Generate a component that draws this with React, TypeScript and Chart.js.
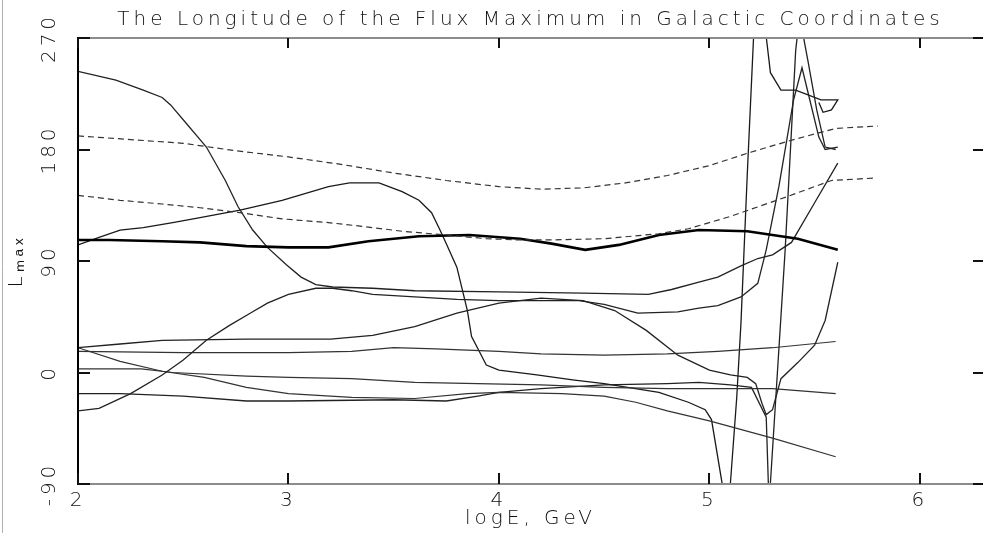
import React, { useEffect, useRef } from 'react';
import { Chart, registerables } from 'chart.js';

Chart.register(...registerables);

// ---- text ----
const TITLE = 'The Longitude of the Flux Maximum in Galactic Coordinates';
const X_LABEL = 'logE, GeV';
const Y_LABEL = 'Lₘₐₓ';

// ---- axes ----
const X_MIN = 2;
const X_MAX = 6.3;
const Y_MIN = -90;
const Y_MAX = 270;
const xTickValues = [2, 3, 4, 5, 6];
const yTickValues = [-90, 0, 90, 180, 270];

// ---- curves: [logE, Lmax] ----
const dashUpper: [number, number][] = [
  [2, 191], [2.25, 188], [2.5, 185], [2.75, 179], [3, 174], [3.25, 168], [3.5, 161], [3.75, 155],
  [4, 150], [4.2, 148], [4.4, 149], [4.6, 153], [4.8, 159], [5, 167], [5.2, 178], [5.4, 188],
  [5.6, 197], [5.8, 199],
];
const dashLower: [number, number][] = [
  [2, 143], [2.2, 139], [2.4, 136], [2.58, 133], [2.77, 129], [2.97, 124], [3.19, 121], [3.35, 118],
  [3.54, 114], [3.75, 111], [3.94, 108], [4.1, 107], [4.25, 107], [4.5, 108], [4.76, 112], [4.9, 116],
  [5.1, 126], [5.37, 142], [5.58, 155], [5.79, 157],
];
const thickMid: [number, number][] = [
  [2, 107], [2.15, 107], [2.4, 106], [2.58, 105], [2.8, 102], [3.0, 101], [3.19, 101], [3.38, 106],
  [3.62, 110], [3.86, 111], [4.1, 108], [4.25, 104], [4.41, 99], [4.57, 103], [4.76, 111], [4.95, 115],
  [5.18, 114], [5.42, 108], [5.61, 99],
];
const fallFromTop: [number, number][] = [
  [2, 243], [2.18, 236], [2.31, 228], [2.4, 222], [2.44, 216], [2.52, 200], [2.58, 188], [2.61, 182],
  [2.7, 155], [2.76, 134], [2.83, 115], [2.9, 101], [2.99, 87], [3.06, 77], [3.13, 71], [3.21, 69],
  [3.4, 68], [3.6, 66], [4.0, 65], [4.4, 64], [4.71, 63], [4.82, 67], [4.95, 73], [5.04, 77],
  [5.15, 86], [5.23, 92], [5.3, 95], [5.39, 105], [5.5, 137], [5.61, 169],
];
const riseFromBottom: [number, number][] = [
  [2, -31], [2.1, -29], [2.25, -17], [2.4, -2], [2.5, 10], [2.61, 26], [2.72, 38], [2.82, 48],
  [2.9, 56], [3.0, 63], [3.13, 68], [3.21, 68], [3.3, 66], [3.4, 63], [3.6, 61], [3.8, 59],
  [4.0, 58], [4.2, 58], [4.38, 58], [4.5, 55], [4.66, 48], [4.85, 49], [4.95, 52], [5.04, 54],
  [5.15, 61], [5.23, 72], [5.27, 99], [5.33, 150], [5.4, 220], [5.44, 246], [5.47, 225],
  [5.52, 190], [5.55, 180], [5.61, 182],
];
const humpDip: [number, number][] = [
  [2, 20], [2.2, 23], [2.4, 26], [2.8, 27], [3.2, 27], [3.4, 30], [3.6, 37], [3.8, 48], [4.0, 56],
  [4.2, 60], [4.4, 58], [4.55, 50], [4.7, 34], [4.85, 14], [5.0, 2], [5.1, -2], [5.18, -4],
  [5.22, -9], [5.25, -25], [5.27, -34], [5.3, -30], [5.34, -5], [5.42, 8], [5.5, 22], [5.55, 42],
  [5.61, 89],
];
const flatUpper: [number, number][] = [
  [2, 17], [2.5, 16], [3.0, 16], [3.3, 17], [3.5, 20], [3.7, 19], [4.0, 17], [4.2, 15], [4.5, 14],
  [4.8, 15], [5.04, 17], [5.3, 20], [5.6, 25],
];
const slideDown: [number, number][] = [
  [2, 20], [2.2, 9], [2.4, 1], [2.6, -4], [2.8, -12], [3.0, -17], [3.3, -20], [3.6, -21],
  [3.85, -17], [4.0, -16], [4.3, -17], [4.5, -19], [4.65, -24], [4.8, -31], [5.0, -39], [5.3, -53],
  [5.6, -68],
];
const nearZero: [number, number][] = [
  [2, 3], [2.3, 3], [2.45, 0], [2.8, -3], [3.0, -4], [3.3, -5], [3.6, -8], [3.9, -9], [4.2, -10],
  [4.5, -12], [4.8, -13], [5.0, -13], [5.3, -13], [5.45, -15], [5.6, -17],
];
const swingLate: [number, number][] = [
  [2, -17], [2.2, -17], [2.5, -19], [2.8, -23], [3.0, -23], [3.5, -22], [3.75, -23], [3.9, -19],
  [4.0, -16], [4.2, -13], [4.5, -10], [4.8, -9], [4.95, -8], [5.1, -10], [5.2, -12], [5.27, -36],
  [5.28, -89], [5.285, -105], [5.29, -89], [5.36, 99], [5.41, 260], [5.43, 290], [5.45, 268],
  [5.47, 250], [5.51, 212], [5.55, 182], [5.6, 180],
];
const swingEarly: [number, number][] = [
  [2, 103], [2.1, 109], [2.2, 115], [2.31, 117], [2.45, 121], [2.58, 125], [2.77, 131], [2.97, 139],
  [3.19, 150], [3.29, 153], [3.43, 153], [3.54, 146], [3.62, 139], [3.68, 129], [3.72, 115],
  [3.75, 104], [3.8, 85], [3.83, 64], [3.85, 50], [3.87, 29], [3.91, 16], [3.94, 6], [4.0, 2],
  [4.18, -2], [4.35, -6], [4.5, -9], [4.76, -16], [4.9, -24], [4.98, -30], [5.01, -38],
  [5.06, -89], [5.08, -105], [5.1, -89], [5.13, -20], [5.15, 40], [5.18, 160], [5.21, 271],
  [5.24, 295], [5.27, 271], [5.29, 242], [5.34, 228], [5.41, 228], [5.53, 220], [5.61, 220],
  [5.58, 212], [5.54, 210], [5.52, 218],
];

const FONT_FAMILY = "'DejaVu Sans', sans-serif";
const INK = '#111';
const LETTER_SPACING = '4px';
const TEXT_FONT = { family: FONT_FAMILY, size: 20, weight: 200, lineHeight: 1.15 };

const toPoints = (arr: [number, number][]) => arr.map(([x, y]) => ({ x, y }));

const solid = (label: string, arr: [number, number][], width = 1.2, color = '#333') => ({
  label,
  data: toPoints(arr),
  borderColor: color,
  borderWidth: width,
  pointRadius: 0,
  fill: false,
  tension: 0,
});

const dashed = (label: string, arr: [number, number][]) => ({
  ...solid(label, arr, 1.2, '#333'),
  borderDash: [6, 4],
});

const framePlugin = {
  id: 'frame',
  beforeUpdate(chart: any) {
    chart.ctx.letterSpacing = LETTER_SPACING;
  },
  beforeDraw(chart: any) {
    chart.ctx.letterSpacing = LETTER_SPACING;
  },
  afterDraw(chart: any) {
    const { ctx, chartArea: a, scales } = chart;
    const x = scales.x;
    const y = scales.y;
    ctx.save();
    ctx.letterSpacing = '0px';
    // frame lines
    ctx.lineWidth = 2;
    ctx.strokeStyle = '#8c8c8c';
    ctx.beginPath();
    ctx.moveTo(a.left, a.top);
    ctx.lineTo(a.right, a.top);
    ctx.moveTo(a.left, a.bottom);
    ctx.lineTo(a.right, a.bottom);
    ctx.moveTo(a.right + 1, a.top);
    ctx.lineTo(a.right + 1, a.bottom);
    ctx.stroke();
    ctx.strokeStyle = '#000';
    ctx.beginPath();
    ctx.moveTo(a.left, a.top - 1);
    ctx.lineTo(a.left, a.bottom + 1);
    ctx.stroke();
    // inward tick marks
    ctx.lineWidth = 2;
    ctx.strokeStyle = '#111';
    ctx.beginPath();
    xTickValues.forEach((v) => {
      const px = Math.round(x.getPixelForValue(v));
      ctx.moveTo(px, a.top);
      ctx.lineTo(px, a.top + 10);
      ctx.moveTo(px, a.bottom);
      ctx.lineTo(px, a.bottom - 11);
    });
    yTickValues.forEach((v) => {
      const py = Math.round(y.getPixelForValue(v));
      ctx.moveTo(a.left, py);
      ctx.lineTo(a.left + 12, py);
      ctx.moveTo(a.right, py);
      ctx.lineTo(a.right - 10, py);
    });
    ctx.stroke();
    // faint page edge at the far left
    ctx.lineWidth = 1;
    ctx.strokeStyle = '#b0b0b0';
    ctx.beginPath();
    ctx.moveTo(2.5, 0);
    ctx.lineTo(2.5, chart.height);
    ctx.stroke();
    ctx.restore();
  },
};

export default function App() {
  const canvasRef = useRef<HTMLCanvasElement | null>(null);

  useEffect(() => {
    if (!canvasRef.current) return;
    const chart = new Chart(canvasRef.current, {
      type: 'line',
      data: {
        datasets: [
          dashed('upper dashed', dashUpper),
          dashed('lower dashed', dashLower),
          solid('thick', thickMid, 2.6, '#000'),
          solid('fall from top', fallFromTop, 1.3, '#222'),
          solid('rise from bottom', riseFromBottom, 1.3, '#222'),
          solid('hump and dip', humpDip, 1.3, '#222'),
          solid('flat upper', flatUpper),
          solid('slide down', slideDown),
          solid('near zero', nearZero),
          solid('late swing', swingLate, 1.3, '#222'),
          solid('early swing', swingEarly, 1.3, '#1a1a1a'),
        ],
      },
      options: {
        responsive: false,
        animation: false,
        events: [],
        layout: { padding: 0 },
        plugins: {
          legend: { display: false },
          tooltip: { enabled: false },
          title: {
            display: true,
            text: TITLE,
            fullSize: false,
            color: INK,
            font: TEXT_FONT,
            padding: { top: 8.5, bottom: 6.5 },
          },
        },
        scales: {
          x: {
            type: 'linear',
            min: X_MIN,
            max: X_MAX,
            grid: { display: false, drawTicks: false },
            border: { display: false },
            afterBuildTicks: (s: any) => {
              s.ticks = xTickValues.map((v) => ({ value: v }));
            },
            afterFit: (s: any) => {
              s.height = 49;
            },
            ticks: {
              autoSkip: false,
              maxRotation: 0,
              minRotation: 0,
              padding: 5,
              color: INK,
              font: TEXT_FONT,
              callback: (v: any) => String(v),
            },
            title: {
              display: true,
              text: X_LABEL,
              color: INK,
              font: TEXT_FONT,
              padding: { top: 0, bottom: 3 },
            },
          },
          y: {
            type: 'linear',
            min: Y_MIN,
            max: Y_MAX,
            grid: { display: false, drawTicks: false },
            border: { display: false },
            afterBuildTicks: (s: any) => {
              s.ticks = yTickValues.map((v) => ({ value: v }));
            },
            afterFit: (s: any) => {
              s.width = 78;
            },
            ticks: {
              autoSkip: false,
              minRotation: 90,
              maxRotation: 90,
              crossAlign: 'center',
              padding: 3,
              color: INK,
              font: TEXT_FONT,
              callback: (v: any) => String(v),
            },
            title: {
              display: true,
              text: Y_LABEL,
              color: INK,
              font: TEXT_FONT,
              padding: { top: 5, bottom: 0 },
            },
          },
        },
      },
      plugins: [framePlugin],
    } as any);
    return () => chart.destroy();
  }, []);

  return (
    <div style={{ position: 'fixed', left: 0, top: 0, width: 983, height: 533, background: '#fff' }}>
      <canvas ref={canvasRef} width={983} height={533} style={{ display: 'block' }} />
    </div>
  );
}
